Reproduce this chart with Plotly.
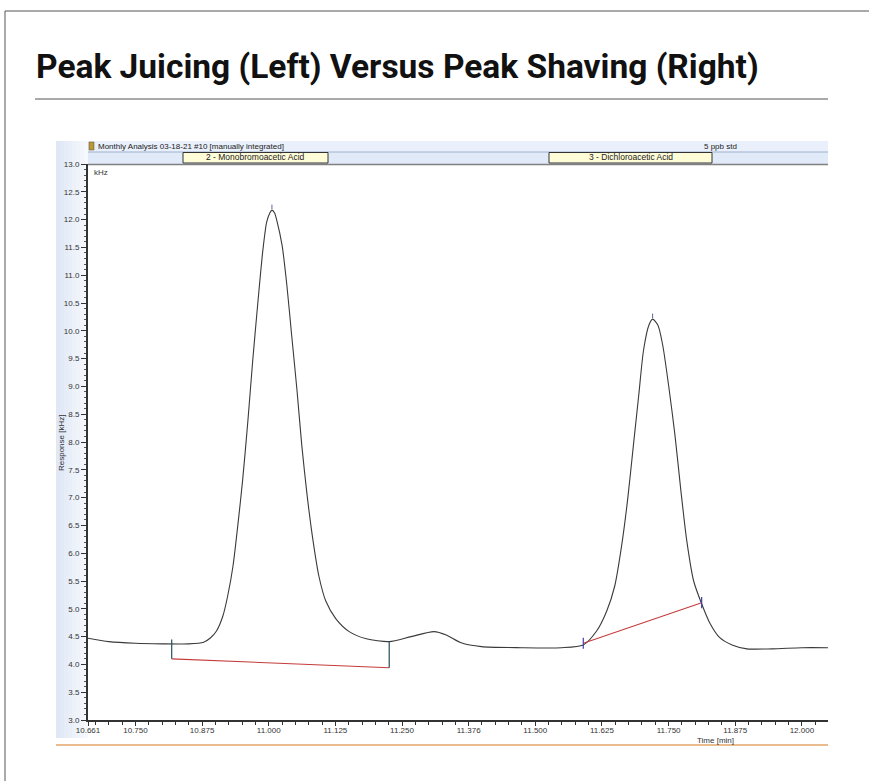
import plotly.graph_objects as go

# ---------------- data ----------------
time_min = [10.661, 10.700, 10.750, 10.800, 10.850, 10.878, 10.891, 10.902, 10.914, 10.923,
            10.933, 10.942, 10.951, 10.961, 10.970, 10.980, 10.989, 10.996, 11.002, 11.006,
            11.011, 11.015, 11.025, 11.034, 11.043, 11.053, 11.062, 11.072, 11.083, 11.094,
            11.107, 11.126, 11.151, 11.183, 11.226, 11.267, 11.310, 11.333, 11.361, 11.399,
            11.474, 11.549, 11.590, 11.615, 11.634, 11.649, 11.662, 11.673, 11.684, 11.694,
            11.703, 11.713, 11.720, 11.730, 11.739, 11.750, 11.762, 11.773, 11.784, 11.797,
            11.812, 11.827, 11.846, 11.869, 11.897, 11.944, 12.000, 12.049]
response_khz = [4.47, 4.41, 4.38, 4.37, 4.37, 4.40, 4.48, 4.60, 4.87, 5.23,
                5.77, 6.50, 7.31, 8.39, 9.47, 10.55, 11.45, 11.95, 12.12, 12.17,
                12.12, 11.99, 11.54, 10.82, 9.92, 8.93, 7.94, 7.04, 6.23, 5.59,
                5.14, 4.82, 4.59, 4.46, 4.41, 4.50, 4.59, 4.53, 4.39, 4.32,
                4.30, 4.30, 4.35, 4.60, 4.96, 5.41, 6.14, 6.95, 7.94, 8.84,
                9.65, 10.10, 10.21, 10.10, 9.74, 9.02, 8.12, 7.13, 6.23, 5.50,
                5.09, 4.75, 4.48, 4.35, 4.28, 4.28, 4.30, 4.30]

# peak 2 (left, "juicing") baseline with drop lines
p2_base_time = [10.818, 11.226]
p2_base_value = [4.10, 3.94]
p2_drop_top = [4.45, 4.41]
# peak 3 (right, "shaving") baseline
p3_base_time = [11.590, 11.812]
p3_base_value = [4.38, 5.11]
# peak apexes
apex_time = [11.006, 11.720]
apex_value = [12.17, 10.21]

x_tickvals = [10.661, 10.750, 10.875, 11.000, 11.125, 11.250, 11.375, 11.500, 11.625, 11.750, 11.875, 12.000]
x_ticktext = ["10.661", "10.750", "10.875", "11.000", "11.125", "11.250", "11.376", "11.500", "11.625", "11.750", "11.875", "12.000"]
x_range = [10.661, 12.049]
y_range = [3.0, 13.0]

title_text = "Peak Juicing (Left) Versus Peak Shaving (Right)"
header_text = "Monthly Analysis 03-18-21 #10 [manually integrated]"
header_right = "5 ppb std"
peak_labels = ["2 - Monobromoacetic Acid", "3 - Dichloroacetic Acid"]

# ---------------- layout helpers ----------------
W, H = 869, 781
L, R, T, B = 88, 828, 164, 720


def px(x):
    return (x - L) / (R - L)


def py(y):
    return (B - y) / (B - T)


SMALL = "Liberation Sans, Arial, sans-serif"

fig = go.Figure()

fig.add_trace(go.Scatter(x=time_min, y=response_khz, mode="lines",
                         line=dict(color="#3a3a3a", width=1.1, shape="spline", smoothing=0.7),
                         hoverinfo="skip", showlegend=False))
# red baselines
fig.add_trace(go.Scatter(x=p2_base_time, y=p2_base_value, mode="lines",
                         line=dict(color="#c43c3c", width=1.1), showlegend=False))
fig.add_trace(go.Scatter(x=p3_base_time, y=p3_base_value, mode="lines",
                         line=dict(color="#c43c3c", width=1.1), showlegend=False))
# drop lines for left peak
for t, top, bot in zip(p2_base_time, p2_drop_top, p2_base_value):
    fig.add_trace(go.Scatter(x=[t, t], y=[top, bot], mode="lines",
                             line=dict(color="#24505a", width=1.2), showlegend=False))
# small delimiter ticks for right peak
fig.add_trace(go.Scatter(x=p3_base_time, y=p3_base_value, mode="markers",
                         marker=dict(symbol="line-ns", size=8,
                                     line=dict(color="#4040b0", width=1.2)),
                         showlegend=False))

shapes = []
# outer frame
shapes.append(dict(type="line", xref="paper", yref="paper", x0=px(5), x1=px(869), y0=py(11), y1=py(11),
                   line=dict(color="#555555", width=1)))
shapes.append(dict(type="line", xref="paper", yref="paper", x0=px(5), x1=px(5), y0=py(11), y1=py(781),
                   line=dict(color="#555555", width=1)))
# title rule
shapes.append(dict(type="line", xref="paper", yref="paper", x0=px(35), x1=px(828), y0=py(99), y1=py(99),
                   line=dict(color="#555555", width=1)))
# left blue band (gradient approximated with strips)
band_cols = ["#e0e8f6", "#e3eaf7", "#e6edf8", "#e9eff9", "#ecf1fa", "#eff4fb", "#f2f6fc", "#f5f8fd"]
for i, c in enumerate(band_cols):
    x0 = 56 + i * 4
    shapes.append(dict(type="rect", xref="paper", yref="paper", layer="below",
                       x0=px(x0), x1=px(x0 + 4), y0=py(738), y1=py(141),
                       fillcolor=c, line=dict(width=0)))
# header rows
shapes.append(dict(type="rect", xref="paper", yref="paper", x0=px(88), x1=px(828), y0=py(152), y1=py(141),
                   fillcolor="#e9f0fb", line=dict(width=0)))
shapes.append(dict(type="rect", xref="paper", yref="paper", x0=px(88), x1=px(828), y0=py(164), y1=py(152),
                   fillcolor="#e1eaf8", line=dict(width=0)))
shapes.append(dict(type="line", xref="paper", yref="paper", x0=px(88), x1=px(828), y0=py(152), y1=py(152),
                   line=dict(color="#9fb2cc", width=1)))
shapes.append(dict(type="line", xref="paper", yref="paper", x0=px(88), x1=px(828), y0=py(164.5), y1=py(164.5),
                   line=dict(color="#808080", width=1.5)))
# icon
shapes.append(dict(type="rect", xref="paper", yref="paper", x0=px(89), x1=px(94), y0=py(150), y1=py(142),
                   fillcolor="#b89a3a", line=dict(color="#5a4a20", width=0.5)))
# peak label boxes
for x0, x1 in [(183, 328), (549, 712)]:
    shapes.append(dict(type="rect", xref="paper", yref="paper", x0=px(x0), x1=px(x1), y0=py(163), y1=py(152.5),
                       fillcolor="#fffcd8", line=dict(color="#333333", width=1)))
# orange rule at bottom
shapes.append(dict(type="line", xref="paper", yref="paper", x0=px(56), x1=px(828), y0=py(745), y1=py(745),
                   line=dict(color="#e3a46a", width=1.5)))

annotations = []
annotations.append(dict(text="<b>" + title_text + "</b>", xref="paper", yref="paper",
                        x=px(34), y=py(67), xanchor="left", yanchor="middle", showarrow=False,
                        font=dict(family="Roboto, Liberation Sans, Arial, sans-serif",
                                  size=33.5, color="#111111")))
annotations.append(dict(text=header_text, xref="paper", yref="paper", x=px(96), y=py(146.5),
                        xanchor="left", yanchor="middle", showarrow=False,
                        font=dict(family=SMALL, size=8, color="#222222")))
annotations.append(dict(text=header_right, xref="paper", yref="paper", x=px(720), y=py(146.5),
                        xanchor="center", yanchor="middle", showarrow=False,
                        font=dict(family=SMALL, size=8, color="#222222")))
for lab, cx in zip(peak_labels, [255.5, 630.5]):
    annotations.append(dict(text=lab, xref="paper", yref="paper", x=px(cx), y=py(157),
                            xanchor="center", yanchor="middle", showarrow=False,
                            font=dict(family=SMALL, size=8.5, color="#222222")))
annotations.append(dict(text="kHz", xref="paper", yref="paper", x=px(92), y=py(172),
                        xanchor="left", yanchor="middle", showarrow=False,
                        font=dict(family=SMALL, size=8, color="#333333")))
annotations.append(dict(text="Response [kHz]", xref="paper", yref="paper", x=px(61), y=py(443),
                        xanchor="center", yanchor="middle", showarrow=False, textangle=-90,
                        font=dict(family=SMALL, size=8, color="#333333")))
annotations.append(dict(text="Time [min]", xref="paper", yref="paper", x=px(715), y=py(740),
                        xanchor="center", yanchor="middle", showarrow=False,
                        font=dict(family=SMALL, size=8, color="#333333")))
# apex marks
for t, v in zip(apex_time, apex_value):
    annotations.append(dict(x=t, y=v, xref="x", yref="y", text="", showarrow=True,
                            arrowhead=0, ax=0, ay=-7, standoff=1, arrowcolor="#5a64a0", arrowwidth=1))

fig.update_layout(
    width=W, height=H,
    margin=dict(l=L, r=W - R, t=T, b=H - B, pad=0),
    paper_bgcolor="white", plot_bgcolor="white",
    shapes=shapes, annotations=annotations,
    showlegend=False,
    xaxis=dict(range=x_range, tickmode="array", tickvals=x_tickvals, ticktext=x_ticktext,
               ticks="outside", ticklen=4, tickcolor="#333333", tickwidth=1,
               ticklabelstandoff=-3,
               showline=True, linecolor="#333333", linewidth=2, showgrid=False, zeroline=False,
               tickfont=dict(family=SMALL, size=8, color="#333333"),
               minor=dict(ticks="outside", ticklen=3, tickcolor="#333333", dtick=0.025, tick0=10.75,
                          showgrid=False)),
    yaxis=dict(range=y_range, dtick=0.5, tick0=3.0, tickformat=".1f",
               ticks="outside", ticklen=5, tickcolor="#333333", tickwidth=1,
               showline=True, linecolor="#333333", linewidth=2, showgrid=False, zeroline=False,
               tickfont=dict(family=SMALL, size=8, color="#333333"),
               minor=dict(ticks="outside", ticklen=2, tickcolor="#555555", dtick=0.1, showgrid=False)),
)

fig.write_html("out.html", config={"displayModeBar": False},
               post_script="document.body.style.margin='0px';")
